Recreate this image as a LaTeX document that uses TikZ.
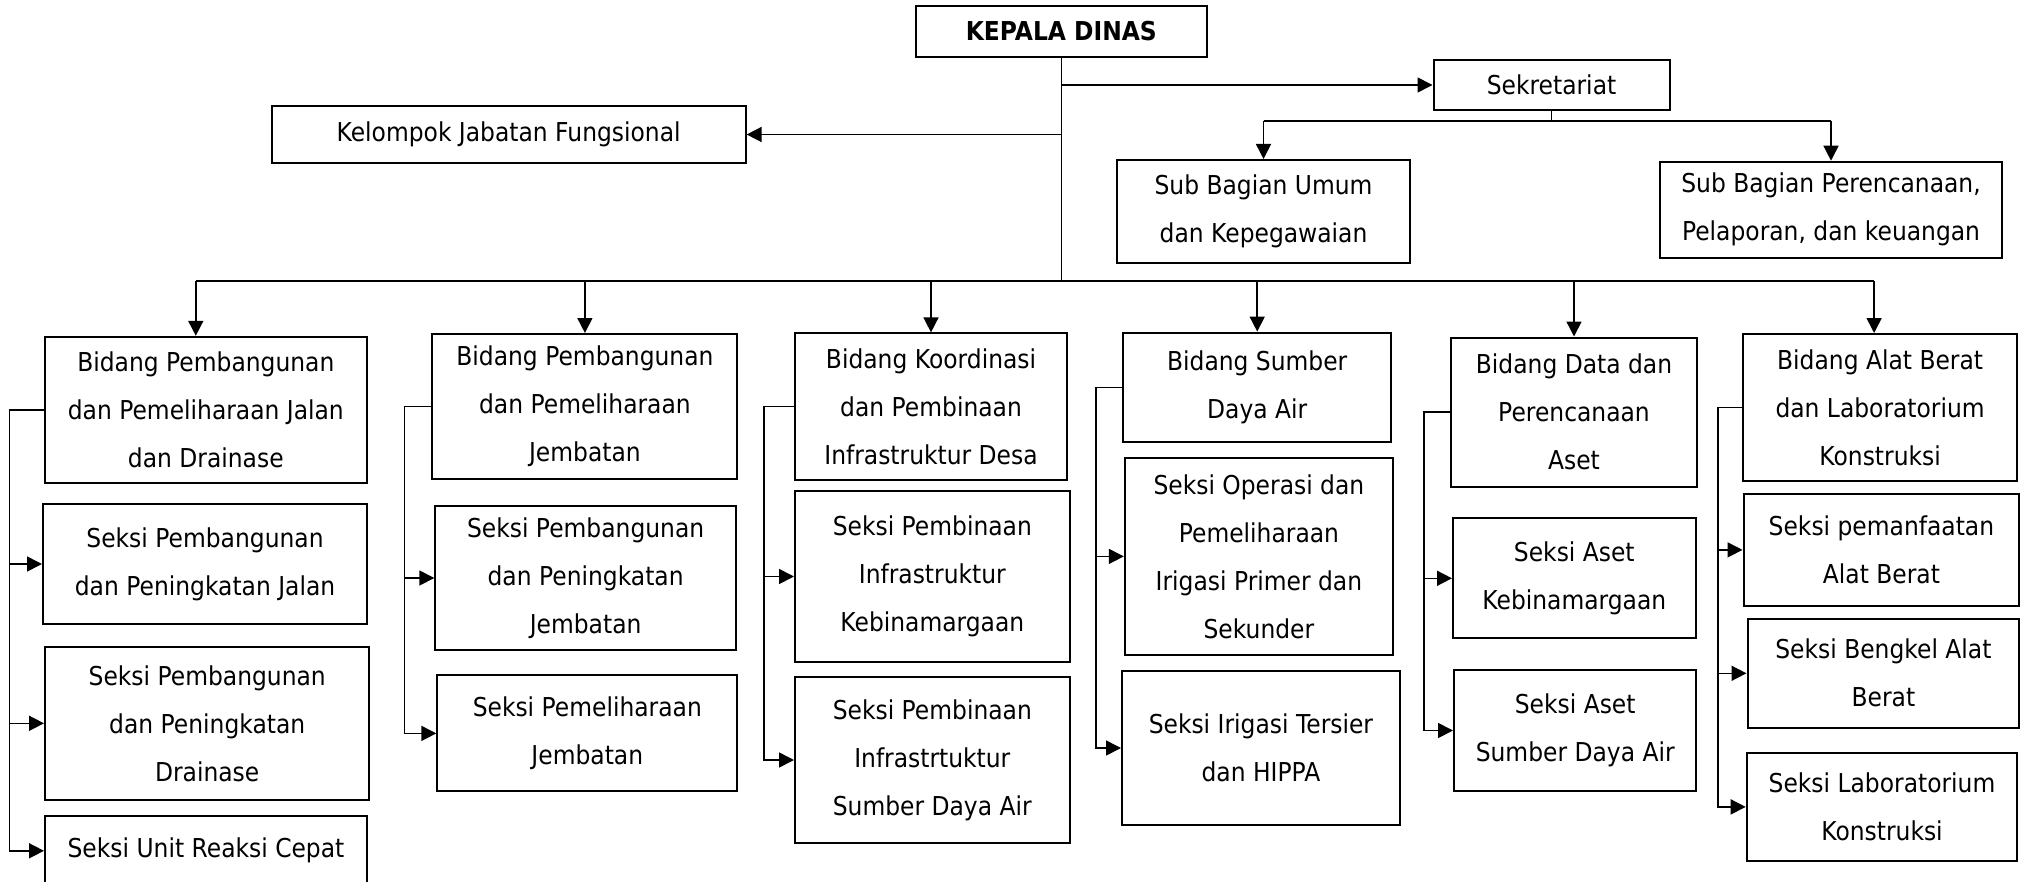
\documentclass[tikz,border=0pt]{standalone}
\usepackage{fontspec}
\setmainfont[FakeStretch=0.9]{DejaVu Sans}
\usetikzlibrary{arrows.meta}
\tikzset{
	box/.style={draw, line width=1pt, align=center, inner sep=0pt, font=\fontsize{13}{24}\selectfont},
	ln/.style={line width=0.8pt},
	arr/.style={line width=0.8pt, -{Triangle[length=7.5pt,width=7.5pt]}}
}

\begin{document}
\begin{tikzpicture}[x=0.5pt, y=-0.5pt]
		%%%%% START %%%%%
		\useasboundingbox (0,0) rectangle (2022,882);
		
		\node[box, minimum width=145.8pt, minimum height=25.5pt] (kd) at (1061.3,31.5) {\textbf{KEPALA DINAS}};
		\node[box, minimum width=237pt, minimum height=28.5pt] (kjf) at (508.6,134.5) {Kelompok Jabatan Fungsional};
		\node[box, minimum width=118pt, minimum height=25pt] (sek) at (1551.5,85) {Sekretariat};
		\node[box, minimum width=146.5pt, minimum height=51.4pt] (sbu) at (1263.5,211.4) {Sub Bagian Umum\\dan Kepegawaian};
		\node[box, minimum width=171.2pt, minimum height=48pt] (sbp) at (1831,209.7) {Sub Bagian Perencanaan,\\Pelaporan, dan keuangan};
		
		% bidang
		\node[box, minimum width=161.2pt, minimum height=73pt] (b1) at (205.8,409.8) {Bidang Pembangunan\\dan Pemeliharaan Jalan\\dan Drainase};
		\node[box, minimum width=152.5pt, minimum height=72.4pt] (b2) at (584.9,406.4) {Bidang Pembangunan\\dan Pemeliharaan\\Jembatan};
		\node[box, minimum width=136.2pt, minimum height=73.1pt] (b3) at (931,406.5) {Bidang Koordinasi\\dan Pembinaan\\Infrastruktur Desa};
		\node[box, minimum width=134.2pt, minimum height=54.9pt] (b4) at (1257.2,387.5) {Bidang Sumber\\Daya Air};
		\node[box, minimum width=123.2pt, minimum height=74.5pt] (b5) at (1574,412) {Bidang Data dan\\Perencanaan\\Aset};
		\node[box, minimum width=137.1pt, minimum height=73.4pt] (b6) at (1880.1,407.4) {Bidang Alat Berat\\dan Laboratorium\\Konstruksi};
		
		% seksi
		\node[box, minimum width=162pt, minimum height=60.3pt] (s11) at (205,564) {Seksi Pembangunan\\dan Peningkatan Jalan};
		\node[box, minimum width=162.2pt, minimum height=76.7pt] (s12) at (207.2,723.3) {Seksi Pembangunan\\dan Peningkatan\\Drainase};
		\node[box, minimum width=161pt, minimum height=35.3pt] (s13) at (206,850.8) {Seksi Unit Reaksi Cepat};
		
		\node[box, minimum width=150.3pt, minimum height=72.4pt] (s21) at (585.6,578) {Seksi Pembangunan\\dan Peningkatan\\Jembatan};
		\node[box, minimum width=150pt, minimum height=58pt] (s22) at (587.3,733.4) {Seksi Pemeliharaan\\Jembatan};
		
		\node[box, minimum width=137.3pt, minimum height=85.5pt] (s31) at (932.3,576.5) {Seksi Pembinaan\\Infrastruktur\\Kebinamargaan};
		\node[box, minimum width=137.3pt, minimum height=82.8pt] (s32) at (932.3,760) {Seksi Pembinaan\\Infrastrtuktur\\Sumber Daya Air};
		
		\node[box, minimum width=134.1pt, minimum height=98.7pt] (s41) at (1258.9,556.4) {Seksi Operasi dan\\Pemeliharaan\\Irigasi Primer dan\\Sekunder};
		\node[box, minimum width=138.9pt, minimum height=76.8pt] (s42) at (1260.9,748) {Seksi Irigasi Tersier\\dan HIPPA};
		
		\node[box, minimum width=121.3pt, minimum height=59.9pt] (s51) at (1574.3,578.3) {Seksi Aset\\Kebinamargaan};
		\node[box, minimum width=121.2pt, minimum height=60.9pt] (s52) at (1575.2,730.5) {Seksi Aset\\Sumber Daya Air};
		
		\node[box, minimum width=137.9pt, minimum height=56.1pt] (s61) at (1881.4,549.9) {Seksi pemanfaatan\\Alat Berat};
		\node[box, minimum width=135.9pt, minimum height=54.7pt] (s62) at (1883.4,673.3) {Seksi Bengkel Alat\\Berat};
		\node[box, minimum width=135.3pt, minimum height=53.6pt] (s63) at (1882,806.9) {Seksi Laboratorium\\Konstruksi};
		
		% kepala dinas lines
		\coordinate (bus) at (0,281);
		\coordinate (sbus) at (0,121);
		\draw[ln] (kd.south) -- (kd.south |- bus);
		\draw[arr] (kd.south |- kjf.east) -- (kjf.east);
		\draw[arr] (kd.south |- sek.west) -- (sek.west);
		
		\draw[ln] (sek.south) -- (sek.south |- sbus);
		\draw[ln] (sbu.north |- sbus) -- (sbp.north |- sbus);
		\draw[arr] (sbu.north |- sbus) -- (sbu.north);
		\draw[arr] (sbp.north |- sbus) -- (sbp.north);
		
		\draw[ln] ([xshift=-5pt]b1.north |- bus) -- ([xshift=-3pt]b6.north |- bus);
		\draw[arr] ([xshift=-5pt]b1.north |- bus) -- ([xshift=-5pt]b1.north);
		\draw[arr] (b2.north |- bus) -- (b2.north);
		\draw[arr] (b3.north |- bus) -- (b3.north);
		\draw[arr] (b4.north |- bus) -- (b4.north);
		\draw[arr] (b5.north |- bus) -- (b5.north);
		\draw[arr] ([xshift=-3pt]b6.north |- bus) -- ([xshift=-3pt]b6.north);
		
		% bidang to seksi
		\draw[arr] (b1.west) -- ++(-34,0) |- (s11.west);
		\draw[arr] (b1.west) -- ++(-34,0) |- (s12.west);
		\draw[arr] (b1.west) -- ++(-34,0) |- (s13.west);
		
		\draw[arr] (b2.west) -- ++(-27,0) |- (s21.west);
		\draw[arr] (b2.west) -- ++(-27,0) |- (s22.west);
		
		\draw[arr] (b3.west) -- ++(-30,0) |- (s31.west);
		\draw[arr] (b3.west) -- ++(-30,0) |- (s32.west);
		
		\draw[arr] (b4.west) -- ++(-26,0) |- (s41.west);
		\draw[arr] (b4.west) -- ++(-26,0) |- (s42.west);
		
		\draw[arr] (b5.west) -- ++(-26,0) |- (s51.west);
		\draw[arr] (b5.west) -- ++(-26,0) |- (s52.west);
		
		\draw[arr] (b6.west) -- ++(-24,0) |- (s61.west);
		\draw[arr] (b6.west) -- ++(-24,0) |- (s62.west);
		\draw[arr] (b6.west) -- ++(-24,0) |- (s63.west);
		
		%%%%% END %%%%%
	\end{tikzpicture}
\end{document}
